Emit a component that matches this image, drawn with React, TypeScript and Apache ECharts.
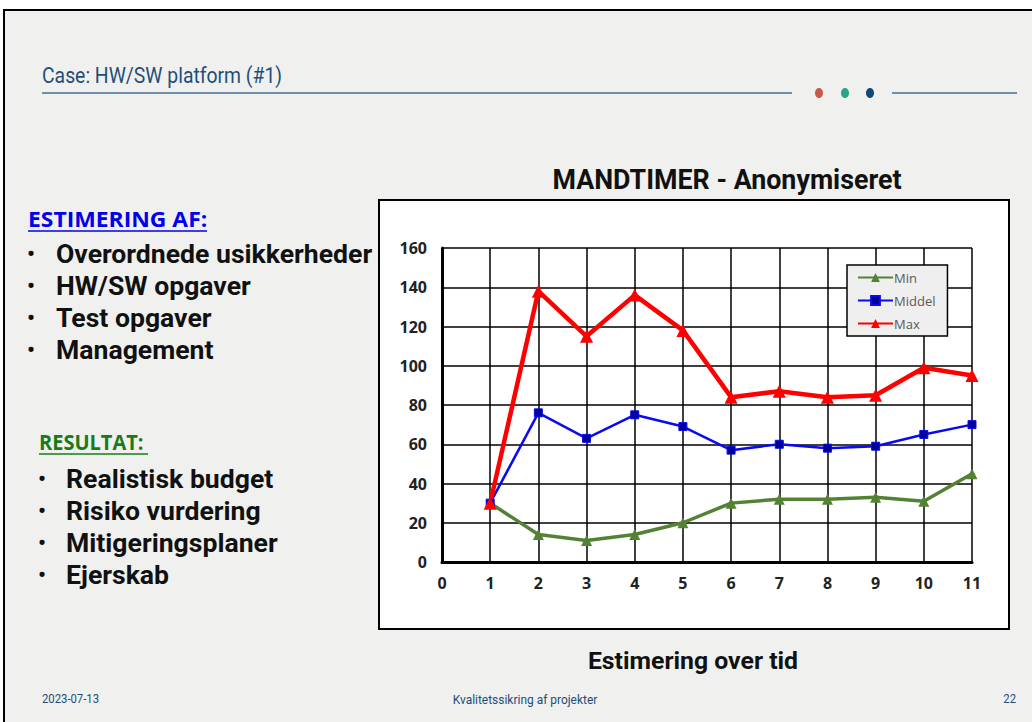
import React, { useEffect, useRef } from "react";
import * as echarts from "echarts";

const xTicks = [0, 1, 2, 3, 4, 5, 6, 7, 8, 9, 10, 11];
const estimates = [1, 2, 3, 4, 5, 6, 7, 8, 9, 10, 11];
const minValues = [30, 14, 11, 14, 20, 30, 32, 32, 33, 31, 45];
const middelValues = [30, 76, 63, 75, 69, 57, 60, 58, 59, 65, 70];
const maxValues = [30, 138, 115, 136, 118, 84, 87, 84, 85, 99, 95];
const seriesNames = ["Min", "Middel", "Max"];
const estimeringItems = ["Overordnede usikkerheder", "HW/SW opgaver", "Test opgaver", "Management"];
const resultatItems = ["Realistisk budget", "Risiko vurdering", "Mitigeringsplaner", "Ejerskab"];

const condensed = "Roboto, sans-serif";
const bodyFont = "Roboto, 'Noto Sans', sans-serif";
const labelFont = "'Open Sans', sans-serif";

export default function App() {
  const ref = useRef<HTMLDivElement>(null);
  useEffect(() => {
    const chart = echarts.init(ref.current!, null, { renderer: "svg" });
    const pts = (vals: number[]) => estimates.map((e, i) => [e, vals[i]]);
    const graphics: any[] = [
      { type: "rect", z: -20, shape: { x: 0, y: 0, width: 1032, height: 722 }, style: { fill: "#ffffff" } },
      { type: "rect", z: -19, shape: { x: 4, y: 10, width: 1040, height: 730 }, style: { fill: "#f0f1ee", stroke: "#000", lineWidth: 2 } },
      { type: "text", z: 5, x: 42, y: 76, scaleX: 0.88, style: { text: "Case: HW/SW platform (#1)", font: `22px ${condensed}`, fill: "#1f4e79", verticalAlign: "middle" } },
      { type: "line", z: 5, shape: { x1: 42, y1: 93, x2: 792, y2: 93 }, style: { stroke: "#6f8fae", lineWidth: 2 } },
      { type: "line", z: 5, shape: { x1: 892, y1: 93, x2: 1017, y2: 93 }, style: { stroke: "#6f8fae", lineWidth: 2 } },
      { type: "ellipse", z: 5, shape: { cx: 819, cy: 93, rx: 4, ry: 5 }, style: { fill: "#c9584a" } },
      { type: "ellipse", z: 5, shape: { cx: 845, cy: 93, rx: 4, ry: 5 }, style: { fill: "#27a58a" } },
      { type: "ellipse", z: 5, shape: { cx: 870, cy: 93, rx: 4, ry: 5 }, style: { fill: "#0b4a7a" } },
      // left text
      { type: "text", z: 5, x: 28, y: 219, scaleX: 1.04, style: { text: "ESTIMERING AF:", font: `bold 22px ${labelFont}`, fill: "#0000ee", verticalAlign: "middle" } },
      { type: "line", z: 5, shape: { x1: 28, y1: 231, x2: 207, y2: 231 }, style: { stroke: "#0000ee", lineWidth: 1.5 } },
      { type: "text", z: 5, x: 39, y: 442, scaleX: 0.91, style: { text: "RESULTAT:", font: `bold 22px ${labelFont}`, fill: "#1a7a1a", verticalAlign: "middle" } },
      { type: "line", z: 5, shape: { x1: 39, y1: 454, x2: 148, y2: 454 }, style: { stroke: "#1a7a1a", lineWidth: 1.5 } },
      // chart box
      { type: "rect", z: -5, shape: { x: 379, y: 200, width: 630, height: 429 }, style: { fill: "#ffffff", stroke: "#000", lineWidth: 2 } },
      { type: "text", z: 5, x: 727, y: 180, style: { text: "MANDTIMER - Anonymiseret", font: `bold 26.8px ${bodyFont}`, fill: "#111", align: "center", verticalAlign: "middle" } },
      { type: "text", z: 5, x: 693, y: 660, style: { text: "Estimering over tid", font: `bold 24.8px ${bodyFont}`, fill: "#111", align: "center", verticalAlign: "middle" } },
      // footer
      { type: "text", z: 5, x: 42, y: 699, scaleX: 0.87, style: { text: "2023-07-13", font: `13px ${condensed}`, fill: "#1f4e79", verticalAlign: "middle" } },
      { type: "text", z: 5, x: 525, y: 699, scaleX: 0.92, style: { text: "Kvalitetssikring af projekter", font: `13px ${condensed}`, fill: "#1f4e79", align: "center", verticalAlign: "middle" } },
      { type: "text", z: 5, x: 1016, y: 699, scaleX: 0.87, style: { text: "22", font: `13px ${condensed}`, fill: "#1f4e79", align: "right", verticalAlign: "middle" } },
    ];
    estimeringItems.forEach((t, i) => {
      const y = 253 + i * 32;
      graphics.push({ type: "text", z: 5, x: 27, y, style: { text: "•", font: `bold 22px ${bodyFont}`, fill: "#111", verticalAlign: "middle" } });
      graphics.push({ type: "text", z: 5, x: 56, y, style: { text: t, font: `bold 26.6px ${bodyFont}`, fill: "#111", verticalAlign: "middle" } });
    });
    resultatItems.forEach((t, i) => {
      const y = 478 + i * 32.3;
      graphics.push({ type: "text", z: 5, x: 38, y, style: { text: "•", font: `bold 22px ${bodyFont}`, fill: "#111", verticalAlign: "middle" } });
      graphics.push({ type: "text", z: 5, x: 66, y, style: { text: t, font: `bold 26.6px ${bodyFont}`, fill: "#111", verticalAlign: "middle" } });
    });

    chart.setOption({
      animation: false,
      graphic: graphics,
      grid: { left: 442, top: 248, width: 530, height: 314, containLabel: false },
      legend: {
        orient: "vertical",
        left: 847,
        top: 265,
        width: 101,
        padding: [6, 12, 6, 10],
        backgroundColor: "#efefef",
        borderColor: "#000",
        borderWidth: 1.5,
        borderRadius: 0,
        itemWidth: 35,
        itemHeight: 11,
        itemGap: 10,
        data: seriesNames,
        textStyle: { color: "#595959", fontSize: 13, fontFamily: labelFont, padding: [0, 0, 0, -4] },
      },
      xAxis: {
        type: "value",
        min: 0,
        max: 11,
        interval: 1,
        data: xTicks,
        axisLine: { show: true, onZero: false, lineStyle: { color: "#000", width: 3 } },
        axisTick: { show: false },
        axisLabel: { color: "#222", fontSize: 16, fontWeight: "bold", fontFamily: labelFont, margin: 13 },
        splitLine: { show: true, lineStyle: { color: "#000", width: 1.5 } },
      },
      yAxis: {
        type: "value",
        min: 0,
        max: 160,
        interval: 20,
        axisLine: { show: true, lineStyle: { color: "#000", width: 3 } },
        axisTick: { show: false },
        axisLabel: { color: "#222", fontSize: 16, fontWeight: "bold", fontFamily: labelFont, margin: 15 },
        splitLine: { show: true, lineStyle: { color: "#000", width: 1.5 } },
      },
      series: [
        {
          name: "Min",
          type: "line",
          data: pts(minValues),
          symbol: "triangle",
          symbolSize: 11,
          lineStyle: { color: "#548235", width: 3.5 },
          itemStyle: { color: "#548235" },
        },
        {
          name: "Middel",
          type: "line",
          data: pts(middelValues),
          symbol: "rect",
          symbolSize: 8,
          lineStyle: { color: "#0a0af0", width: 2.5 },
          itemStyle: { color: "#000099", borderColor: "#0a0af0", borderWidth: 1 },
        },
        {
          name: "Max",
          type: "line",
          data: pts(maxValues),
          symbol: "triangle",
          symbolSize: 13,
          lineStyle: { color: "#ff0000", width: 4.5 },
          itemStyle: { color: "#ff0000" },
        },
      ],
    });
    return () => chart.dispose();
  }, []);
  return <div ref={ref} style={{ position: "absolute", left: 0, top: 0, width: 1032, height: 722 }} />;
}
